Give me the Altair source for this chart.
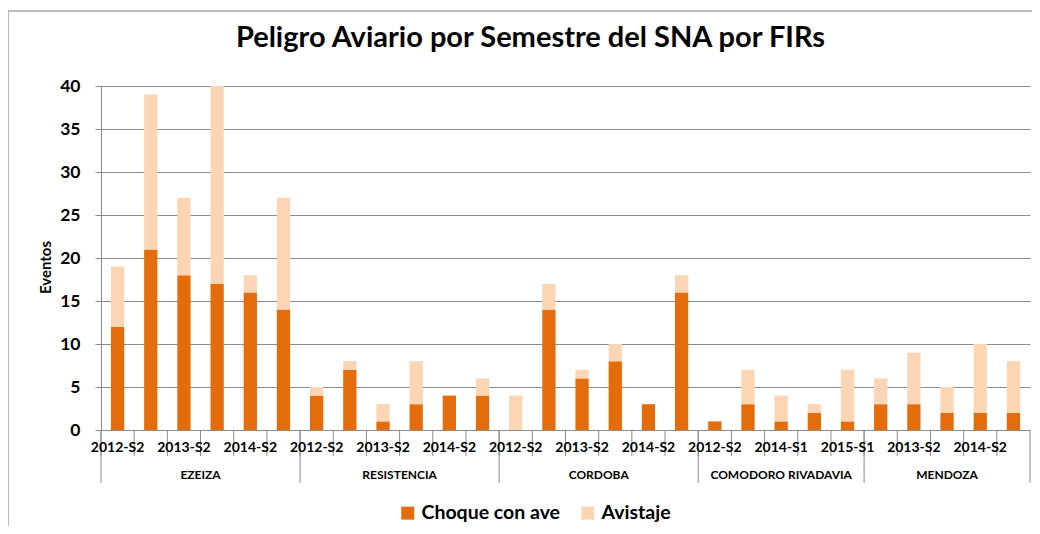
import altair as alt
import pandas as pd

# ---- data ----
firs = ["EZEIZA", "RESISTENCIA", "CORDOBA", "COMODORO RIVADAVIA", "MENDOZA"]
semestres_ezeiza = ["2012-S2", "2013-S1", "2013-S2", "2014-S1", "2014-S2", "2015-S1"]
semestres_resistencia = ["2012-S2", "2013-S1", "2013-S2", "2014-S1", "2014-S2", "2015-S1"]
semestres_cordoba = ["2012-S2", "2013-S1", "2013-S2", "2014-S1", "2014-S2", "2015-S1"]
semestres_comodoro = ["2012-S2", "2013-S2", "2014-S1", "2014-S2", "2015-S1"]
semestres_mendoza = ["2013-S1", "2013-S2", "2014-S1", "2014-S2", "2015-S1"]

choque_ezeiza = [12, 21, 18, 17, 16, 14]
choque_resistencia = [4, 7, 1, 3, 4, 4]
choque_cordoba = [0, 14, 6, 8, 3, 16]
choque_comodoro = [1, 3, 1, 2, 1]
choque_mendoza = [3, 3, 2, 2, 2]

avistaje_ezeiza = [7, 18, 9, 23, 2, 13]
avistaje_resistencia = [1, 1, 2, 5, 0, 2]
avistaje_cordoba = [4, 3, 1, 2, 0, 2]
avistaje_comodoro = [0, 4, 3, 1, 6]
avistaje_mendoza = [3, 6, 3, 8, 6]

series = ["Choque con ave", "Avistaje"]
colores = ["#E46C0A", "#FCD5B5"]
y_ticks = [0, 5, 10, 15, 20, 25, 30, 35, 40]

semestres = [semestres_ezeiza, semestres_resistencia, semestres_cordoba,
             semestres_comodoro, semestres_mendoza]
choque = [choque_ezeiza, choque_resistencia, choque_cordoba, choque_comodoro, choque_mendoza]
avistaje = [avistaje_ezeiza, avistaje_resistencia, avistaje_cordoba,
            avistaje_comodoro, avistaje_mendoza]

# ---- tables ----
bar_rows, cat_rows = [], []
idx = 0
for fir, sems, ch, av in zip(firs, semestres, choque, avistaje):
    for j, (s, c, a) in enumerate(zip(sems, ch, av)):
        key = f"{fir}|{s}"
        bar_rows.append({"key": key, "serie": series[0], "valor": c, "orden": 0})
        bar_rows.append({"key": key, "serie": series[1], "valor": a, "orden": 1})
        cat_rows.append({"key": key, "label": s, "fir": fir, "idx": idx, "pos": j, "n": len(sems)})
        idx += 1
bars = pd.DataFrame(bar_rows)
cats = pd.DataFrame(cat_rows)
keys = list(cats["key"])

labels = cats[cats["idx"] % 2 == 0]
group_start = cats[cats["pos"] == 0]
group_end = cats.tail(1)
mid_even = cats[(cats["n"] % 2 == 0) & (cats["pos"] == cats["n"] // 2)]
mid_odd = cats[(cats["n"] % 2 == 1) & (cats["pos"] == cats["n"] // 2)]

W, H = 929, 344
GRAY = "#8c8c8c"
FONT = "Lato"


def X(bp=None):
    kw = dict(sort=keys, scale=alt.Scale(domain=keys, paddingInner=0, paddingOuter=0), axis=None)
    if bp is not None:
        kw["bandPosition"] = bp
    return alt.X("key:N", **kw)


bar_layer = alt.Chart(bars).mark_bar(width=alt.RelativeBandSize(0.4)).encode(
    x=X(),
    y=alt.Y("valor:Q", stack="zero",
            scale=alt.Scale(domain=[0, 40], nice=False),
            axis=alt.Axis(values=y_ticks, title="Eventos", grid=True, gridColor=GRAY,
                          gridWidth=1, domainColor=GRAY, tickColor=GRAY, tickSize=6,
                          labelPadding=15, labelFont=FONT, labelFontSize=17.5,
                          labelFontWeight="bold", labelColor="#000000",
                          titleFont=FONT, titleFontSize=15, titleFontWeight="bold",
                          titleColor="#000000", titleX=-51, titleY=181,
                          titleAlign="center", titleAngle=270,
                          titleBaseline="alphabetic")),
    color=alt.Color("serie:N", sort=series,
                    scale=alt.Scale(domain=series, range=colores),
                    legend=alt.Legend(orient="none", legendX=297, legendY=417,
                                      direction="horizontal", title=None,
                                      symbolType="square", symbolSize=169,
                                      symbolStrokeWidth=0, labelFont=FONT,
                                      labelFontSize=19.5, labelFontWeight="bold",
                                      labelColor="#000000", columnPadding=17,
                                      labelOffset=4)),
    order=alt.Order("orden:Q"),
)

tick_layer = alt.Chart(cats).mark_rule(color=GRAY, strokeWidth=1).encode(
    x=X(0), y=alt.value(H), y2=alt.value(H + 26))
group_layer = alt.Chart(group_start).mark_rule(color=GRAY, strokeWidth=1).encode(
    x=X(0), y=alt.value(H), y2=alt.value(H + 53))
end_layer = alt.Chart(group_end).mark_rule(color=GRAY, strokeWidth=1).encode(
    x=X(1), y=alt.value(H), y2=alt.value(H + 53))

label_layer = alt.Chart(labels).mark_text(font=FONT, fontSize=14, fontWeight="bold",
                                          baseline="middle", color="#000000").encode(
    x=X(), y=alt.value(362), text="label:N")
fir_even = alt.Chart(mid_even).mark_text(font=FONT, fontSize=12, fontWeight="bold",
                                         baseline="middle", color="#000000").encode(
    x=X(0), y=alt.value(389), text="fir:N")
fir_odd = alt.Chart(mid_odd).mark_text(font=FONT, fontSize=12, fontWeight="bold",
                                       baseline="middle", color="#000000").encode(
    x=X(), y=alt.value(389), text="fir:N")

frame_top = alt.Chart(cats.head(1)).mark_rule(color="#a6a6a6", strokeWidth=1.5).encode(
    x=alt.value(-93), x2=alt.value(940), y=alt.value(-75))
frame_left = alt.Chart(cats.head(1)).mark_rule(color="#a6a6a6", strokeWidth=1.5).encode(
    x=alt.value(-93), y=alt.value(-75), y2=alt.value(450))

chart = alt.layer(
    frame_top, frame_left, bar_layer, tick_layer, group_layer, end_layer,
    label_layer, fir_even, fir_odd,
).properties(
    width=W, height=H,
    padding={"left": 93, "top": 78, "right": 2, "bottom": 96},
    autosize=alt.AutoSizeParams(type="none"),
    title=alt.TitleParams("Peligro Aviario por Semestre del SNA por FIRs",
                          font=FONT, fontSize=29, fontWeight="bold", color="#000000",
                          anchor="middle", dx=-35, baseline="alphabetic", offset=-66),
).configure_view(strokeWidth=0)

chart.save("out.html", embed_options={"renderer": "svg", "actions": False})
